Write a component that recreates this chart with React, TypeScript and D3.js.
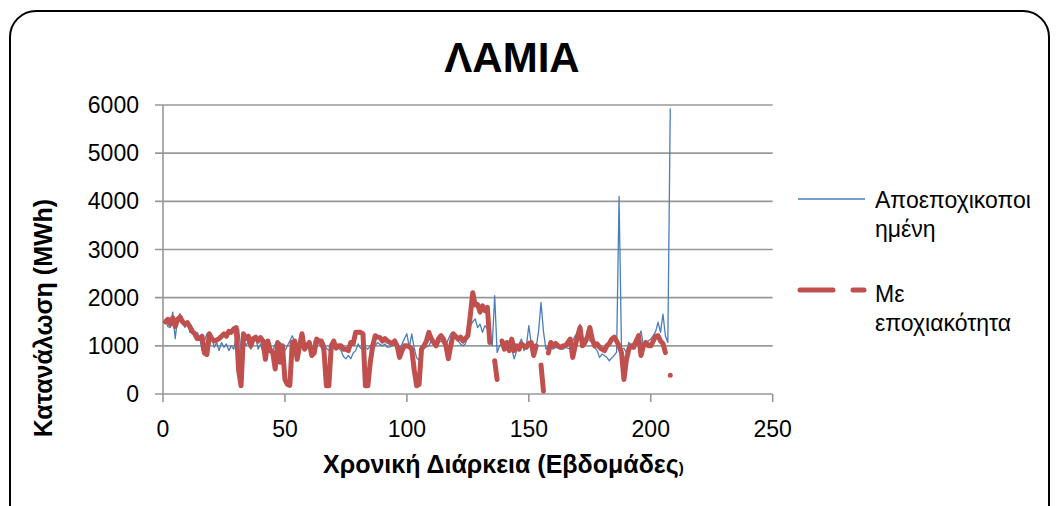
import React from 'react';
import * as d3 from 'd3';

const titleText = 'ΛΑΜΙΑ';
const yAxisTitle = 'Κατανάλωση (MWh)';
const xAxisTitleMain = 'Χρονική Διάρκεια (Εβδομάδες';
const xAxisTitleEnd = ')';
const seriesNames = ['Αποεποχικοποι', 'ημένη', 'Με', 'εποχιακότητα'];

const yTicks = [0, 1000, 2000, 3000, 4000, 5000, 6000];
const xTicks = [0, 50, 100, 150, 200, 250];

const deseasonalized: number[] = [
  1520,1400,1380,1700,1150,1560,1670,1500,1380,1520,
  1280,1380,1250,1280,1180,900,1100,1250,1000,1180,
  970,1070,900,1070,970,1040,900,1000,930,1180,
  1350,900,1140,1000,1100,930,1070,1180,930,1040,
  860,1000,1100,970,900,1040,970,1070,1000,900,
  1000,1100,1210,1100,950,1100,1180,1000,1050,1070,
  860,1100,1080,1040,970,1070,950,900,1000,970,
  1000,950,900,780,730,800,730,850,900,1040,
  950,930,970,930,1000,1040,1000,1070,1030,1000,
  1040,970,980,1000,1040,960,930,1040,1150,1250,
  970,1250,950,750,700,1000,950,980,1000,1100,
  1050,1040,1070,1100,1050,1000,1140,1250,1280,1210,
  1100,1040,1000,1040,1210,1400,1500,1560,1380,1450,
  1280,1420,1350,1210,1000,2040,860,1000,1070,970,
  1000,1040,930,730,900,1040,1140,900,1000,1420,
  1040,960,970,1300,1900,1300,930,1000,960,930,
  970,950,930,930,970,950,930,1100,1210,1250,
  1450,1000,1040,1180,1100,1070,970,900,760,830,
  800,760,690,750,800,870,4100,930,950,860,
  1070,1000,1070,1100,1180,1310,1000,1070,1100,1140,
  1210,1300,1490,1280,1660,1210,1070,5930,
];

const seasonal: (number | null)[] = [
  1500,1550,1450,1580,1400,1550,1600,1500,1450,1480,
  1400,1300,1250,1150,1150,1200,850,820,1250,1150,
  1100,1120,1150,1200,1250,1200,1300,1280,1350,1380,
  500,170,1250,1150,1200,1000,1150,1180,1100,1170,
  1100,720,1100,900,860,520,1070,660,1000,300,
  200,180,1070,1100,720,1000,1250,930,1000,1070,
  800,850,1140,1100,1100,900,170,170,1000,1100,
  950,1000,1000,930,930,900,1070,1050,1280,1280,
  1280,1250,170,170,660,1000,1210,1180,1170,1100,
  1150,1100,1070,1050,1100,1000,760,900,1000,1000,
  980,930,500,170,200,930,1000,1100,1280,1150,
  1070,1000,1150,1210,1140,1000,730,1000,1250,1200,
  1140,1180,1100,1150,1210,1630,2100,1850,1860,1700,
  1830,1730,1800,1070,null,690,300,null,1100,930,
  1070,900,1140,900,1000,930,1040,1000,970,1050,
  1070,800,1000,null,600,60,null,850,1070,1000,
  1050,1000,970,1000,1000,1070,1140,760,1000,1200,
  1380,1000,1070,1180,1380,1140,1000,1040,970,930,
  900,1000,1050,1140,1180,1100,1000,860,300,700,
  930,1000,970,1100,1210,800,1000,1070,1000,1000,
  1100,1200,1210,1100,1050,860,null,390,
];

const BLUE = '#4A7EBB';
const RED = '#C0504D';
const GRID = '#989898';
const FONT = '"Liberation Sans", Arial, sans-serif';

export default function App() {
  const x = d3.scaleLinear().domain([0, 250]).range([163, 772.7]);
  const y = d3.scaleLinear().domain([0, 6000]).range([394, 105]);

  const blueLine = d3
    .line<number>()
    .x((_, i) => x(i + 1))
    .y((d) => y(d));
  const blueD = blueLine(deseasonalized) || '';

  const redLine = d3
    .line<number | null>()
    .defined((d) => d != null)
    .x((_, i) => x(i + 1))
    .y((d) => y(d as number));
  const redD = redLine(seasonal) || '';

  return (
    <svg
      width={1057}
      height={506}
      style={{ position: 'absolute', left: 0, top: 0, background: '#fff' }}
      fontFamily={FONT}
    >
      <rect x={0} y={0} width={1057} height={506} fill="#fff" />
      <rect
        x={10}
        y={11}
        width={1039}
        height={525}
        rx={26}
        ry={26}
        fill="#fff"
        stroke="#000"
        strokeWidth={2}
      />
      <text x={512} y={72} textAnchor="middle" fontSize={42} fontWeight="bold" fill="#000">
        {titleText}
      </text>

      {yTicks.map((t) => (
        <line key={'g' + t} x1={x(0) - 8} x2={x(250)} y1={y(t)} y2={y(t)} stroke={GRID} strokeWidth={1.6} />
      ))}
      <line x1={x(0)} x2={x(0)} y1={y(6000)} y2={y(0)} stroke={GRID} strokeWidth={1.6} />
      {xTicks.map((t) => (
        <line key={'xt' + t} x1={x(t)} x2={x(t)} y1={y(0)} y2={y(0) + 8} stroke={GRID} strokeWidth={1.6} />
      ))}

      {yTicks.map((t) => (
        <text key={'yl' + t} x={139} y={y(t) + 8} textAnchor="end" fontSize={23} fill="#000">
          {t}
        </text>
      ))}
      {xTicks.map((t) => (
        <text key={'xl' + t} x={x(t)} y={437} textAnchor="middle" fontSize={23} fill="#000">
          {t}
        </text>
      ))}

      <path d={blueD} fill="none" stroke={BLUE} strokeWidth={1.3} strokeLinejoin="round" />
      <path
        d={redD}
        fill="none"
        stroke={RED}
        strokeWidth={5}
        strokeLinecap="round"
        strokeLinejoin="round"
      />

      <text
        transform={`translate(52, 318) rotate(-90)`}
        textAnchor="middle"
        fontSize={25}
        fontWeight="bold"
        fill="#000"
      >
        {yAxisTitle}
      </text>
      <text x={323} y={473} fontSize={25} fontWeight="bold" fill="#000">
        {xAxisTitleMain}
        <tspan fontSize={15}>{xAxisTitleEnd}</tspan>
      </text>

      <line x1={798} x2={865} y1={199} y2={199} stroke={BLUE} strokeWidth={1.3} />
      <text x={875} y={208} fontSize={23} fill="#000">{seriesNames[0]}</text>
      <text x={875} y={237} fontSize={23} fill="#000">{seriesNames[1]}</text>
      <line
        x1={800}
        x2={864}
        y1={290}
        y2={290}
        stroke={RED}
        strokeWidth={5}
        strokeDasharray="33 20"
        strokeLinecap="round"
      />
      <text x={875} y={302} fontSize={23} fill="#000">{seriesNames[2]}</text>
      <text x={875} y={331} fontSize={23} fill="#000">{seriesNames[3]}</text>
    </svg>
  );
}
